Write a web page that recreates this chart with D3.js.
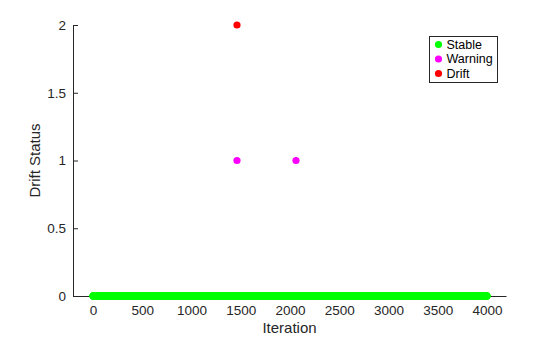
<!DOCTYPE html>
<html>
<head>
<meta charset="utf-8">
<script src="https://cdn.jsdelivr.net/npm/d3@7"></script>
<style>
  body { margin: 0; background: #fff; }
  svg, svg text { font-family: "Liberation Sans", Arial, sans-serif; }
</style>
</head>
<body>
<div id="chart"></div>
<script>
// Iterations where the detector flagged something
const warningIterations = [1462, 2061];
const driftIterations = [1462];
const lastIteration = 4000;

// Status codes per class
const statusStable = 0;
const statusWarning = 1;
const statusDrift = 2;

const xTicks = [0, 500, 1000, 1500, 2000, 2500, 3000, 3500, 4000];
const yTicks = [0, 0.5, 1, 1.5, 2];

const legendLabels = ['Stable', 'Warning', 'Drift'];
const legendColors = ['#00ff00', '#ff00ff', '#ff0000'];

// every iteration that is neither warning nor drift is stable
const flagged = new Set(warningIterations.concat(driftIterations));
const stableIterations = d3.range(0, lastIteration + 1).filter(i => !flagged.has(i));

const width = 560, height = 337;
const margin = { top: 25, right: 54, bottom: 41, left: 73 };

const svg = d3.select('#chart')
    .append('svg')
    .attr('width', width)
    .attr('height', height);

const x = d3.scaleLinear()
    .domain([-203, 4193])
    .range([margin.left, width - margin.right]);

const y = d3.scaleLinear()
    .domain([0, 2])
    .range([height - margin.bottom, margin.top]);

const axisColor = '#262626';

// X axis (ticks point inward)
const gx = svg.append('g')
    .attr('transform', `translate(0,${y(0)})`)
    .call(d3.axisBottom(x).tickValues(xTicks).tickFormat(d3.format('d')).tickSize(-4).tickPadding(9).tickSizeOuter(0));
gx.attr('font-family', null);
gx.select('.domain').attr('stroke', axisColor);
gx.selectAll('.tick line').attr('stroke', axisColor);
gx.selectAll('.tick text').attr('fill', axisColor).style('font-size', '13.5px');

// Y axis
const gy = svg.append('g')
    .attr('transform', `translate(${margin.left},0)`)
    .call(d3.axisLeft(y).tickValues(yTicks).tickFormat(d3.format('')).tickSize(-5).tickPadding(7).tickSizeOuter(0));
gy.attr('font-family', null);
gy.select('.domain').attr('stroke', axisColor);
gy.selectAll('.tick line').attr('stroke', axisColor);
gy.selectAll('.tick text').attr('fill', axisColor).style('font-size', '13.5px');

// points
const r = 3.6;
svg.append('g')
    .selectAll('circle')
    .data(stableIterations)
    .join('circle')
    .attr('cx', d => x(d))
    .attr('cy', y(statusStable))
    .attr('r', r)
    .attr('fill', legendColors[0]);

svg.append('g')
    .selectAll('circle')
    .data(warningIterations)
    .join('circle')
    .attr('cx', d => x(d))
    .attr('cy', y(statusWarning))
    .attr('r', r)
    .attr('fill', legendColors[1]);

svg.append('g')
    .selectAll('circle')
    .data(driftIterations)
    .join('circle')
    .attr('cx', d => x(d))
    .attr('cy', y(statusDrift))
    .attr('r', r)
    .attr('fill', legendColors[2]);

// axis labels
svg.append('text')
    .attr('x', (x(-203) + x(4193)) / 2)
    .attr('y', 333)
    .attr('text-anchor', 'middle')
    .attr('fill', axisColor)
    .style('font-size', '15px')
    .text('Iteration');

svg.append('text')
    .attr('transform', `translate(40,${(y(0) + y(2)) / 2}) rotate(-90)`)
    .attr('text-anchor', 'middle')
    .attr('fill', axisColor)
    .style('font-size', '15px')
    .text('Drift Status');

// legend
const legend = svg.append('g').attr('transform', 'translate(429.5,36.5)');
legend.append('rect')
    .attr('width', 68)
    .attr('height', 46)
    .attr('fill', '#fff')
    .attr('stroke', axisColor)
    .attr('stroke-width', 1);

legend.selectAll('g.item')
    .data(legendLabels)
    .join('g')
    .attr('class', 'item')
    .attr('transform', (d, i) => `translate(0,${8 + i * 14.5})`)
    .each(function (d, i) {
        const g = d3.select(this);
        g.append('circle').attr('cx', 9).attr('cy', 0).attr('r', 3.6).attr('fill', legendColors[i]);
        g.append('text').attr('x', 17).attr('y', 4.3).attr('fill', '#000').style('font-size', '12.5px').text(d);
    });
</script>
</body>
</html>
